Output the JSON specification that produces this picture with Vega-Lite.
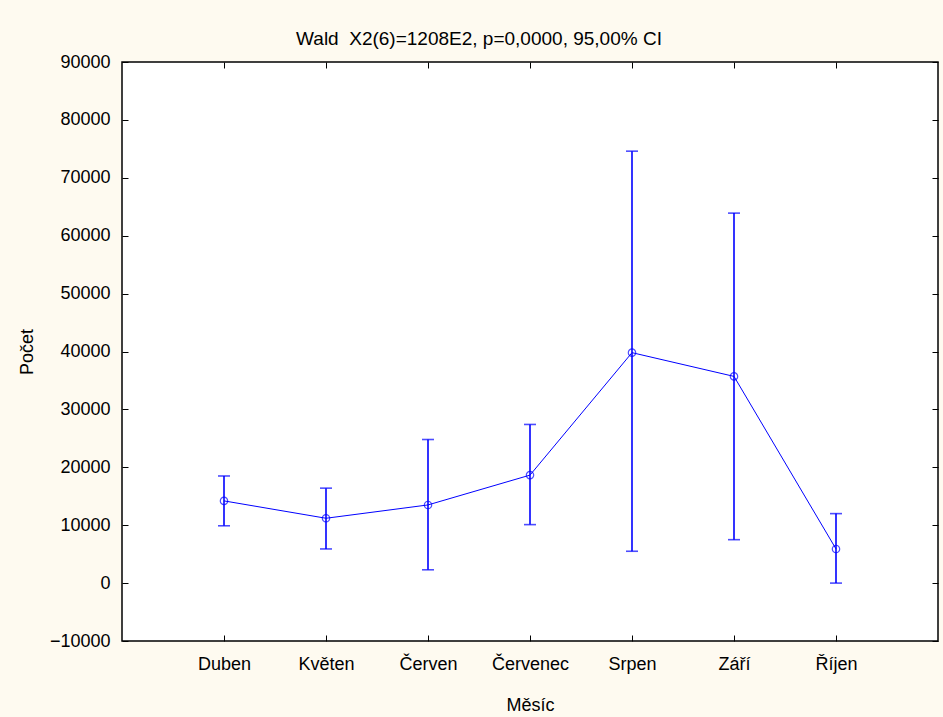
{
  "$schema": "https://vega.github.io/schema/vega-lite/v6.json",
  "width": 816,
  "height": 579,
  "autosize": {"type": "none"},
  "padding": {"left": 122, "top": 62, "right": 5, "bottom": 76},
  "background": "#FEFAF0",
  "view": {"fill": "#FFFFFF", "stroke": "#000000", "strokeWidth": 1.5},
  "config": {
    "font": "Liberation Sans",
    "axis": {"grid": false, "domain": false, "labelFont": "Liberation Sans", "titleFont": "Liberation Sans", "labelColor": "#000", "titleColor": "#000", "tickColor": "#000", "titleFontWeight": "normal"}
  },
  "title": {
    "text": "Wald\u00a0 X2(6)=1208E2, p=0,0000, 95,00% CI",
    "font": "Liberation Sans",
    "fontSize": 19,
    "fontWeight": "normal",
    "color": "#000",
    "anchor": "middle",
    "dx": -51,
    "offset": 4
  },
  "data": {
    "values": [
      {"month": "Duben", "mean": 14200, "lower": 9900, "upper": 18500},
      {"month": "Květen", "mean": 11200, "lower": 5900, "upper": 16400},
      {"month": "Červen", "mean": 13500, "lower": 2300, "upper": 24800},
      {"month": "Červenec", "mean": 18650, "lower": 10100, "upper": 27400},
      {"month": "Srpen", "mean": 39800, "lower": 5500, "upper": 74600},
      {"month": "Září", "mean": 35700, "lower": 7500, "upper": 63900},
      {"month": "Říjen", "mean": 5900, "lower": 0, "upper": 12000}
    ]
  },
  "resolve": {"axis": {"x": "independent", "y": "independent"}},
  "layer": [
    {
      "mark": {"type": "line", "color": "#0000FF", "strokeWidth": 1},
      "encoding": {
        "x": {"field": "month", "type": "ordinal", "sort": null, "scale": {"type": "point", "padding": 1},
          "axis": {"orient": "bottom", "title": "Měsíc", "labelAngle": 0, "labelFontSize": 18, "titleFontSize": 18, "tickSize": -6, "labelPadding": 20, "titlePadding": 23}},
        "y": {"field": "mean", "type": "quantitative", "scale": {"domain": [-10000, 90000], "nice": false, "zero": false},
          "axis": {"orient": "left", "title": "Počet", "values": [-10000, 0, 10000, 20000, 30000, 40000, 50000, 60000, 70000, 80000, 90000], "format": "d", "labelFontSize": 18, "titleFontSize": 18, "tickSize": -6, "labelPadding": 18, "titlePadding": 13}}
      }
    },
    {
      "mark": {"type": "rule", "color": "#0000FF", "strokeWidth": 1.6},
      "encoding": {
        "x": {"field": "month", "type": "ordinal", "sort": null,
          "axis": {"orient": "top", "title": null, "labels": false, "tickSize": -6}},
        "y": {"field": "lower", "type": "quantitative",
          "axis": {"orient": "right", "title": null, "labels": false, "tickSize": -6, "values": [-10000, 0, 10000, 20000, 30000, 40000, 50000, 60000, 70000, 80000, 90000]}},
        "y2": {"field": "upper"}
      }
    },
    {
      "mark": {"type": "tick", "color": "#0000FF", "orient": "horizontal", "size": 12, "thickness": 1.6},
      "encoding": {
        "x": {"field": "month", "type": "ordinal", "sort": null, "axis": null},
        "y": {"field": "lower", "type": "quantitative", "axis": null}
      }
    },
    {
      "mark": {"type": "tick", "color": "#0000FF", "orient": "horizontal", "size": 12, "thickness": 1.6},
      "encoding": {
        "x": {"field": "month", "type": "ordinal", "sort": null, "axis": null},
        "y": {"field": "upper", "type": "quantitative", "axis": null}
      }
    },
    {
      "mark": {"type": "point", "shape": "circle", "filled": false, "color": "#0000FF", "size": 55, "strokeWidth": 1.2},
      "encoding": {
        "x": {"field": "month", "type": "ordinal", "sort": null, "axis": null},
        "y": {"field": "mean", "type": "quantitative", "axis": null}
      }
    }
  ]
}
